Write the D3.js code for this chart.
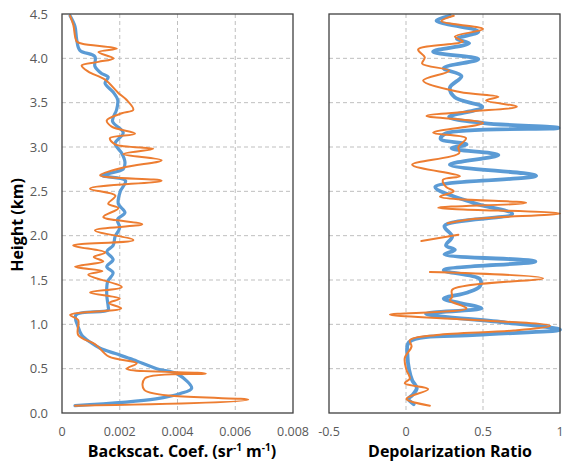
<!DOCTYPE html>
<html>
<head>
<meta charset="utf-8">
<script src="https://cdn.jsdelivr.net/npm/d3@7"></script>
<style>
  body { margin: 0; background: #fff; }
  text { font-family: "Open Sans", "Noto Sans", sans-serif; }
</style>
</head>
<body>
<div id="chart"></div>
<script>
// tick values
const heightTicks = [0, 0.5, 1, 1.5, 2, 2.5, 3, 3.5, 4, 4.5];
const backscatTicks = [0, 0.002, 0.004, 0.006, 0.008];
const backscatTickLabels = ["0", "0.002", "0.004", "0.006", "0.008"];
const depolTicks = [-0.5, 0, 0.5, 1];
const depolTickLabels = ["-0.5", "0", "0.5", "1"];

// backscatter coefficient, blue series
const bsBlueHeight = [4.48, 4.36, 4.21, 4.09, 4.02, 3.91, 3.83, 3.79, 3.72, 3.62, 3.53, 3.42, 3.29, 3.16, 3.04, 2.93, 2.83, 2.75, 2.68, 2.62, 2.50, 2.36, 2.26, 2.18, 2.09, 1.99, 1.89, 1.82, 1.73, 1.65, 1.58, 1.48, 1.33, 1.20, 1.16, 1.105, 0.97, 0.88, 0.80, 0.73, 0.67, 0.60, 0.50, 0.44, 0.28, 0.22, 0.16, 0.083];
const bsBlueValue = [0.00028, 0.00045, 0.00051, 0.00062, 0.00114, 0.00114, 0.00137, 0.0016, 0.00149, 0.00177, 0.00193, 0.00189, 0.00175, 0.00212, 0.00184, 0.00207, 0.00218, 0.00212, 0.0014, 0.0022, 0.00202, 0.00195, 0.00218, 0.00192, 0.002, 0.00184, 0.00177, 0.00155, 0.00177, 0.00155, 0.00177, 0.00158, 0.00155, 0.0016, 0.0016, 0.00048, 0.00056, 0.00068, 0.00097, 0.00132, 0.00185, 0.00247, 0.00328, 0.004, 0.00449, 0.0041, 0.00325, 0.00045];

// backscatter coefficient, orange series
const bsOrangeHeight = [4.48, 4.38, 4.19, 4.165, 4.11, 4.07, 4.00, 3.96, 3.92, 3.85, 3.76, 3.61, 3.53, 3.42, 3.38, 3.30, 3.23, 3.15, 3.10, 3.03, 2.98, 2.92, 2.85, 2.77, 2.68, 2.62, 2.53, 2.45, 2.36, 2.31, 2.21, 2.13, 2.06, 1.95, 1.89, 1.81, 1.76, 1.71, 1.65, 1.60, 1.56, 1.42, 1.36, 1.29, 1.24, 1.18, 1.105, 1.05, 0.88, 0.77, 0.635, 0.56, 0.50, 0.445, 0.39, 0.26, 0.15, 0.083];
const bsOrangeValue = [0.00028, 0.00039, 0.00051, 0.0007, 0.0019, 0.00126, 0.00178, 0.00126, 0.00068, 0.00091, 0.00149, 0.00195, 0.00224, 0.00247, 0.00207, 0.00155, 0.00172, 0.00253, 0.00166, 0.00184, 0.00316, 0.00212, 0.00345, 0.00215, 0.00132, 0.00345, 0.00097, 0.00185, 0.0016, 0.00195, 0.00143, 0.00278, 0.00114, 0.00247, 0.00039, 0.0015, 0.0011, 0.00143, 0.00045, 0.0014, 0.00091, 0.00207, 0.00097, 0.002, 0.00163, 0.00205, 0.00028, 0.00056, 0.00056, 0.00117, 0.00163, 0.00259, 0.00224, 0.00498, 0.00287, 0.00285, 0.00645, 0.00045];

// depolarization ratio, blue series
const dpBlueHeight = [4.48, 4.425, 4.30, 4.22, 4.17, 4.075, 3.99, 3.89, 3.80, 3.67, 3.56, 3.45, 3.34, 3.27, 3.215, 3.155, 3.09, 3.03, 2.985, 2.91, 2.80, 2.675, 2.55, 2.37, 2.245, 2.11, 1.99, 1.89, 1.84, 1.79, 1.71, 1.61, 1.51, 1.43, 1.36, 1.29, 1.24, 1.18, 1.12, 1.02, 0.94, 0.88, 0.80, 0.64, 0.49, 0.37, 0.28, 0.20, 0.16, 0.10];
const dpBlueValue = [0.285, 0.198, 0.47, 0.33, 0.41, 0.176, 0.47, 0.245, 0.36, 0.285, 0.317, 0.495, 0.28, 0.505, 0.99, 0.26, 0.225, 0.393, 0.296, 0.6, 0.285, 0.845, 0.19, 0.436, 0.69, 0.25, 0.3, 0.26, 0.317, 0.25, 0.84, 0.245, 0.48, 0.48, 0.4, 0.245, 0.35, 0.49, 0.13, 0.65, 1.0, 0.46, 0.02, 0.01, 0.02, 0.04, 0.07, 0.04, 0.015, 0.05];

// depolarization ratio, orange series (null = no data)
const dpOrangeHeight = [4.48, 4.42, 4.33, 4.245, 4.19, 4.10, 4.01, 3.94, 3.86, 3.75, 3.62, 3.565, 3.525, 3.455, 3.40, 3.35, 3.27, 3.16, 3.10, 3.00, 2.93, 2.80, 2.67, 2.63, 2.55, 2.50, 2.44, 2.37, 2.315, 2.25, 2.19, 2.14, 2.07, 2.01, 1.94, 1.75, 1.59, 1.52, 1.39, 1.31, 1.27, 1.18, 1.11, 1.06, 0.985, 0.93, 0.88, 0.82, 0.75, 0.62, 0.485, 0.39, 0.335, 0.27, 0.16, 0.083];
const dpOrangeValue = [0.31, 0.23, 0.5, 0.317, 0.37, 0.079, 0.122, 0.105, 0.28, 0.111, 0.35, 0.6, 0.52, 0.72, 0.415, 0.133, 0.5, 0.176, 0.39, 0.34, 0.345, 0.04, 0.35, 0.24, 0.26, 0.31, 0.22, 0.78, 0.209, 1.0, 0.45, 0.27, null, 0.34, 0.1, null, 0.155, 0.89, 0.3, 0.3, 0.285, 0.393, -0.105, 0.33, 0.935, 0.7, 0.2, 0.025, 0.036, -0.008, 0.003, 0.025, -0.008, 0.144, 0.003, 0.155];

const blue = "#5B9BD5";
const orange = "#ED7D31";

const width = 563, height = 461;
const plotTop = 14, plotBottom = 413;

const svg = d3.select("#chart").append("svg")
  .attr("width", width)
  .attr("height", height);

const yScale = d3.scaleLinear().domain([0, 4.5]).range([plotBottom, plotTop]);

function zip(h, v) {
  return h.map((d, i) => ({ h: d, v: v[i] }));
}

function drawPanel(opt) {
  const xScale = d3.scaleLinear().domain(opt.domain).range([opt.left, opt.right]);
  const g = svg.append("g");

  // grid
  g.selectAll(".hgrid").data(heightTicks.slice(1, -1)).enter()
    .append("line")
    .attr("x1", opt.left).attr("x2", opt.right)
    .attr("y1", d => yScale(d)).attr("y2", d => yScale(d))
    .attr("stroke", "#BFBFBF").attr("stroke-width", 1)
    .attr("stroke-dasharray", "4,3");
  g.selectAll(".vgrid").data(opt.ticks.slice(1, -1)).enter()
    .append("line")
    .attr("x1", d => xScale(d)).attr("x2", d => xScale(d))
    .attr("y1", plotTop).attr("y2", plotBottom)
    .attr("stroke", "#BFBFBF").attr("stroke-width", 1)
    .attr("stroke-dasharray", "4,3");

  // series
  const line = d3.line()
    .defined(d => d.v !== null)
    .x(d => xScale(d.v))
    .y(d => yScale(d.h))
    .curve(d3.curveCatmullRom.alpha(0.5));

  opt.series.forEach(s => {
    g.append("path")
      .attr("d", line(zip(s.h, s.v)))
      .attr("fill", "none")
      .attr("stroke", s.color)
      .attr("stroke-width", s.width)
      .attr("stroke-linejoin", "round")
      .attr("stroke-linecap", "round");
  });

  // plot border
  g.append("rect")
    .attr("x", opt.left).attr("y", plotTop)
    .attr("width", opt.right - opt.left).attr("height", plotBottom - plotTop)
    .attr("fill", "none").attr("stroke", "#404040").attr("stroke-width", 1.3);

  // x tick labels
  g.selectAll(".xlab").data(opt.ticks).enter()
    .append("text")
    .attr("x", d => xScale(d))
    .attr("y", 436)
    .attr("text-anchor", "middle")
    .attr("fill", "#595959")
    .attr("font-size", 12.5)
    .text((d, i) => opt.tickLabels[i]);

  // x title
  const t = g.append("text")
    .attr("x", opt.titleX)
    .attr("y", 457)
    .attr("text-anchor", "middle")
    .attr("font-size", 16)
    .attr("font-weight", "bold")
    .attr("fill", "#000");
  opt.title(t);
}

drawPanel({
  left: 62, right: 293,
  domain: [0, 0.008],
  ticks: backscatTicks,
  tickLabels: backscatTickLabels,
  titleX: 182,
  series: [
    { h: bsBlueHeight, v: bsBlueValue, color: blue, width: 3.2 },
    { h: bsOrangeHeight, v: bsOrangeValue, color: orange, width: 2 }
  ],
  title: t => {
    t.append("tspan").text("Backscat. Coef. (sr");
    t.append("tspan").attr("dy", -6).attr("font-size", 10).text("-1");
    t.append("tspan").attr("dy", 6).text(" m");
    t.append("tspan").attr("dy", -6).attr("font-size", 10).text("-1");
    t.append("tspan").attr("dy", 6).text(")");
  }
});

drawPanel({
  left: 329, right: 560,
  domain: [-0.5, 1],
  ticks: depolTicks,
  tickLabels: depolTickLabels,
  titleX: 450,
  series: [
    { h: dpBlueHeight, v: dpBlueValue, color: blue, width: 3.8 },
    { h: dpOrangeHeight, v: dpOrangeValue, color: orange, width: 2 }
  ],
  title: t => t.text("Depolarization Ratio")
});

// y tick labels (left panel only)
svg.selectAll(".ylab").data(heightTicks).enter()
  .append("text")
  .attr("x", 48)
  .attr("y", d => yScale(d) + 4.5)
  .attr("text-anchor", "end")
  .attr("fill", "#595959")
  .attr("font-size", 13)
  .text(d => d.toFixed(1));

// y title
svg.append("text")
  .attr("transform", "translate(23,225) rotate(-90)")
  .attr("text-anchor", "middle")
  .attr("font-size", 16)
  .attr("font-weight", "bold")
  .attr("fill", "#000")
  .text("Height (km)");
</script>
</body>
</html>
